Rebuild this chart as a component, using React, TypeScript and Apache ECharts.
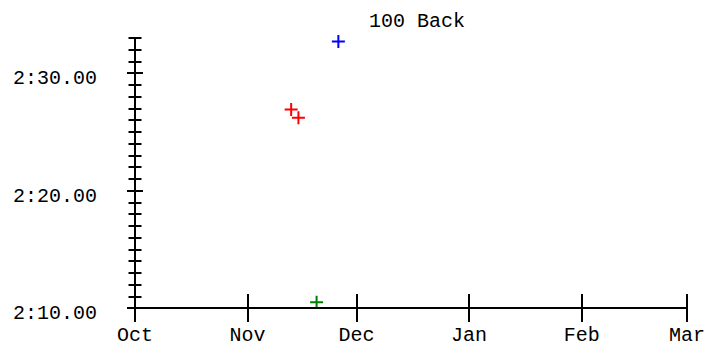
import React, { useEffect, useRef } from "react";
import * as echarts from "echarts";

const titleText = "100 Back";
const xMin = "2019-10-01";
const xMax = "2020-03-01";
const yMin = 130;
const yMax = 153;
const majorTicks = [130, 140, 150];
const minorTicks = Array.from({ length: 24 }, (_, i) => 130 + i);

const redDates = ["2019-11-13", "2019-11-15"];
const redTimes = [146.9, 146.2];
const blueDates = ["2019-11-26"];
const blueTimes = [152.7];
const greenDates = ["2019-11-20"];
const greenTimes = [130.5];

const plus = "path://M5.5,0H7.5V5.5H13V7.5H7.5V13H5.5V7.5H0V5.5H5.5Z";
const FONT = "'Courier New', 'Liberation Mono', monospace";

function fmtTime(v: number) {
  const m = Math.floor(v / 60);
  const s = v - m * 60;
  return m + ":" + (s < 10 ? "0" : "") + s.toFixed(2);
}

function yAx(ticks: number[], len: number, inside: boolean, main: boolean) {
  return {
    type: "value",
    min: yMin,
    max: yMax,
    interval: 1,
    position: "left",
    offset: 0,
    axisLine: { show: main, lineStyle: { color: "#000", width: 2 } },
    axisTick: {
      show: true,
      inside,
      length: len,
      customValues: ticks,
      lineStyle: { color: "#000", width: 2 },
    },
    axisLabel: main
      ? {
          show: true,
          customValues: majorTicks,
          formatter: (v: number) => fmtTime(v),
          fontFamily: FONT,
          fontSize: 20,
          color: "#000",
          margin: 38,
          verticalAlign: "top",
          lineHeight: 11,
        }
      : { show: false },
    splitLine: { show: false },
  };
}

function xAx(inside: boolean, main: boolean) {
  return {
    type: "time",
    min: xMin,
    max: xMax,
    position: "bottom",
    offset: 0,
    splitNumber: 5,
    minInterval: 28 * 86400000,
    maxInterval: 31 * 86400000,
    z: 5,
    axisLine: { show: main, lineStyle: { color: "#000", width: 2 } },
    axisTick: { show: true, inside, length: 14, lineStyle: { color: "#000", width: 2 } },
    axisLabel: main
      ? {
          show: true,
          formatter: "{MMM}",
          fontFamily: FONT,
          fontSize: 20,
          color: "#000",
          margin: 17,
          hideOverlap: false,
          showMinLabel: true,
          showMaxLabel: true,
        }
      : { show: false },
    splitLine: { show: false },
  };
}

function mk(dates: string[], vals: number[]) {
  return dates.map((d, i) => [d, vals[i]]);
}

const pointStyle = (color: string) => ({ color, opacity: 1 });

export default function App() {
  const ref = useRef<HTMLDivElement>(null);
  useEffect(() => {
    if (!ref.current) return;
    const chart = echarts.init(ref.current, null, { renderer: "svg" });
    chart.setOption({
      animation: false,
      backgroundColor: "#fff",
      title: {
        text: titleText,
        left: 412,
        top: 6,
        textAlign: "center",
        textStyle: { fontFamily: FONT, fontSize: 20, fontWeight: "normal", color: "#000" },
      },
      grid: { left: 135, right: 21, top: 38, bottom: 37, containLabel: false },
      xAxis: [xAx(false, true), xAx(true, false)],
      yAxis: [
        yAx(minorTicks, 6.5, false, true),
        yAx(minorTicks, 6.5, true, false),
        yAx(majorTicks, 8, false, false),
        yAx(majorTicks, 8, true, false),
      ],
      series: [
        { name: "Red", type: "scatter", symbol: plus, symbolSize: 13, itemStyle: pointStyle("#ff0000"), data: mk(redDates, redTimes), z: 2 },
        { name: "Blue", type: "scatter", symbol: plus, symbolSize: 13, itemStyle: pointStyle("#0000ff"), data: mk(blueDates, blueTimes), z: 2 },
        { name: "Green", type: "scatter", symbol: plus, symbolSize: 13, itemStyle: pointStyle("#008000"), data: mk(greenDates, greenTimes), z: 2 },
      ],
    });
    return () => chart.dispose();
  }, []);
  return (
    <div
      ref={ref}
      style={{ position: "fixed", left: 0, top: 0, width: 708, height: 345, background: "#fff" }}
    />
  );
}
